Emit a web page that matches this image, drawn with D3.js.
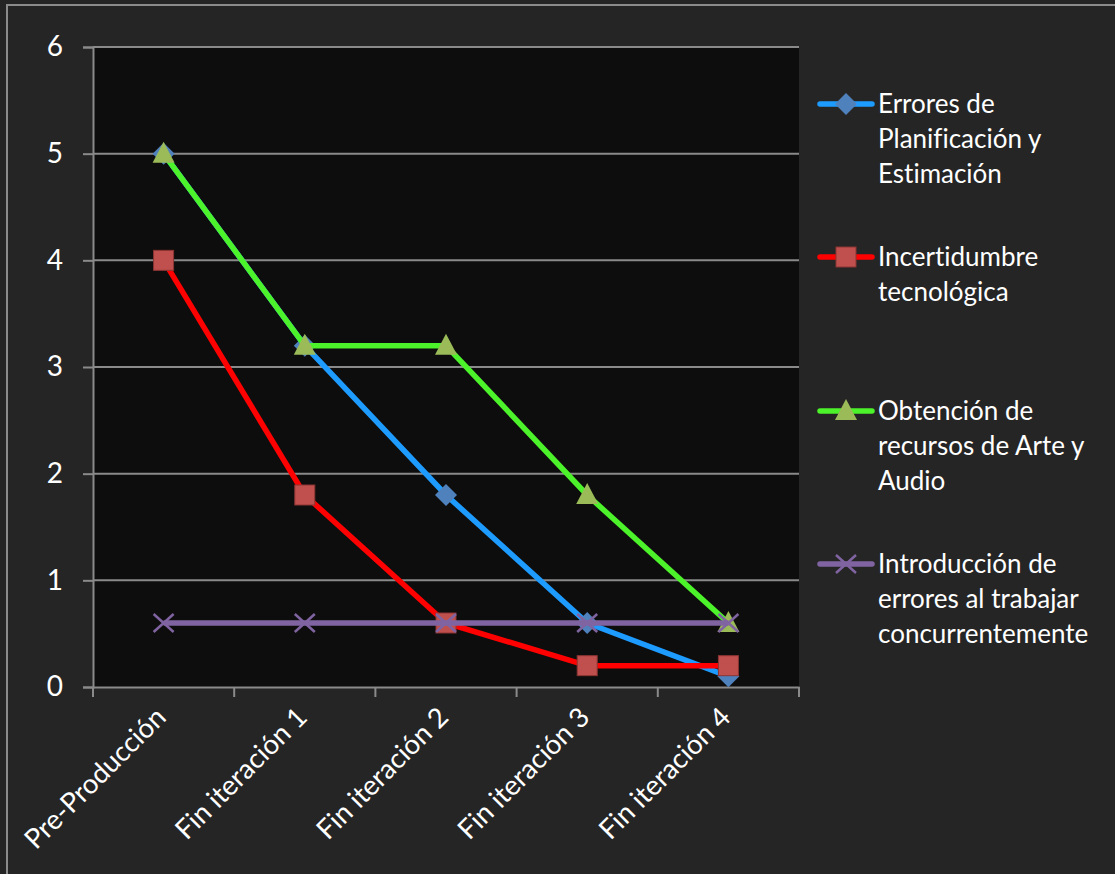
<!DOCTYPE html>
<html>
<head>
<meta charset="utf-8">
<script src="https://cdn.jsdelivr.net/npm/d3@7"></script>
<style>
  body { margin: 0; background: #252525; }
  text, tspan { font-family: Lato, "Open Sans", sans-serif; fill: #ffffff;
    font-variant-ligatures: none; font-feature-settings: "liga" 0, "clig" 0, "dlig" 0, "calt" 0; }
</style>
</head>
<body>
<script>
// data
var categories = ["Pre-Producción", "Fin iteración 1", "Fin iteración 2", "Fin iteración 3", "Fin iteración 4"];
var seriesNames = [
  ["Errores de", "Planificación y", "Estimación"],
  ["Incertidumbre", "tecnológica"],
  ["Obtención de", "recursos de Arte y", "Audio"],
  ["Introducción de", "errores al trabajar", "concurrentemente"]
];
var errores       = [5, 3.2, 1.8, 0.6, 0.1];
var incertidumbre = [4, 1.8, 0.6, 0.2, 0.2];
var obtencion     = [5, 3.2, 3.2, 1.8, 0.6];
var introduccion  = [0.6, 0.6, 0.6, 0.6, 0.6];
var yTicks = [0, 1, 2, 3, 4, 5, 6];

var lineColors = ["#1e9bff", "#ff0000", "#4cf22a", "#8064a2"];
var markColors = ["#4f81bd", "#c0504d", "#9bbb59", "#8064a2"];
var markTypes  = ["diamond", "square", "triangle", "x"];
var allSeries = [errores, incertidumbre, obtencion, introduccion];

var svg = d3.select("body").append("svg").attr("width", 1115).attr("height", 874);

svg.append("rect").attr("x", 7).attr("y", 5).attr("width", 1200).attr("height", 1000)
  .attr("fill", "#252525").attr("stroke", "#8c8c8c").attr("stroke-width", 2);

var pLeft = 93, pRight = 799, pTop = 47, pBottom = 687;

var x = d3.scaleBand().domain(categories).range([pLeft, pRight]);
var y = d3.scaleLinear().domain([0, 6]).range([pBottom, pTop]);

svg.append("rect").attr("x", pLeft).attr("y", pTop).attr("width", pRight - pLeft).attr("height", pBottom - pTop)
  .attr("fill", "#0d0d0d");

// gridlines
svg.selectAll("line.grid").data(yTicks.slice(1)).enter().append("line")
  .attr("class", "grid")
  .attr("x1", pLeft).attr("x2", pRight)
  .attr("y1", d => y(d)).attr("y2", d => y(d))
  .attr("stroke", "#8a8a8a").attr("stroke-width", 2);

// y axis
var yAxis = svg.append("g").attr("transform", "translate(" + pLeft + ",0)")
  .call(d3.axisLeft(y).tickValues(yTicks).tickSize(10).tickPadding(20).tickFormat(d3.format("d")));
yAxis.select(".domain").attr("stroke", "#8a8a8a").attr("stroke-width", 2);
yAxis.selectAll(".tick line").attr("stroke", "#8a8a8a").attr("stroke-width", 2);
yAxis.selectAll(".tick text").attr("font-size", 28).attr("font-family", "Lato, sans-serif").attr("fill", "#fff");

// x axis
var xAxis = svg.append("g").attr("transform", "translate(0," + pBottom + ")")
  .call(d3.axisBottom(x).tickSize(0).tickSizeOuter(0));
xAxis.select(".domain").attr("stroke", "#8a8a8a").attr("stroke-width", 2);
xAxis.selectAll(".tick text")
  .attr("font-size", 27.5).attr("font-family", "Lato, sans-serif").attr("fill", "#fff")
  .attr("text-anchor", "end").attr("dy", 0).attr("y", 0)
  .attr("transform", "translate(4,32) rotate(-45)");
// boundary ticks between categories
var bounds = categories.map(c => x(c)).concat([pRight]);
svg.selectAll("line.xtick").data(bounds).enter().append("line")
  .attr("class", "xtick")
  .attr("x1", d => d).attr("x2", d => d)
  .attr("y1", pBottom).attr("y2", pBottom + 10)
  .attr("stroke", "#8a8a8a").attr("stroke-width", 2);

function cx(i) { return x(categories[i]) + x.bandwidth() / 2; }

function drawMarker(g, type, color, px, py) {
  if (type === "diamond") {
    g.append("path").attr("d", "M" + px + "," + (py - 11) + "L" + (px + 11) + "," + py + "L" + px + "," + (py + 11) + "L" + (px - 11) + "," + py + "Z")
      .attr("fill", color);
  } else if (type === "square") {
    g.append("rect").attr("x", px - 10).attr("y", py - 10).attr("width", 20).attr("height", 20)
      .attr("fill", color).attr("stroke", "#8c3533").attr("stroke-width", 1);
  } else if (type === "triangle") {
    g.append("path").attr("d", "M" + px + "," + (py - 12) + "L" + (px + 11) + "," + (py + 9) + "L" + (px - 11) + "," + (py + 9) + "Z")
      .attr("fill", color);
  } else {
    g.append("path").attr("d", "M" + (px - 10) + "," + (py - 9) + "L" + (px + 10) + "," + (py + 9) + "M" + (px - 10) + "," + (py + 9) + "L" + (px + 10) + "," + (py - 9))
      .attr("stroke", color).attr("stroke-width", 2.5).attr("fill", "none");
  }
}

var line = d3.line().x((d, i) => cx(i)).y(d => y(d));

allSeries.forEach(function(vals, s) {
  var g = svg.append("g");
  g.append("path").datum(vals).attr("d", line)
    .attr("fill", "none").attr("stroke", lineColors[s]).attr("stroke-width", 5.5)
    .attr("stroke-linejoin", "round");
  vals.forEach(function(v, i) { drawMarker(g, markTypes[s], markColors[s], cx(i), y(v)); });
});

// legend
var legendY = [104, 257, 411, 564];
seriesNames.forEach(function(lines, s) {
  var g = svg.append("g");
  g.append("line").attr("x1", 820).attr("x2", 872).attr("y1", legendY[s]).attr("y2", legendY[s])
    .attr("stroke", lineColors[s]).attr("stroke-width", 5.5).attr("stroke-linecap", "round");
  drawMarker(g, markTypes[s], markColors[s], 846, legendY[s]);
  var t = g.append("text").attr("x", 878).attr("y", legendY[s]).attr("font-size", 26);
  t.selectAll("tspan").data(lines).enter().append("tspan")
    .attr("x", 878).attr("dy", (d, i) => i === 0 ? "0.35em" : 35)
    .text(d => d);
});
</script>
</body>
</html>
